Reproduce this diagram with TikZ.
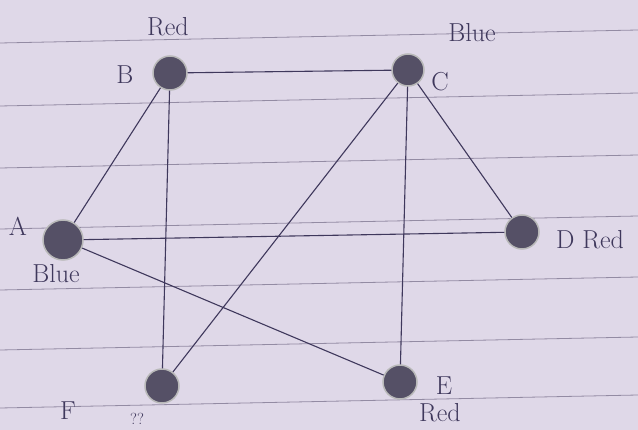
\documentclass[tikz,border=0pt]{standalone}
\definecolor{paper}{HTML}{DFD8E8}
\definecolor{rule}{HTML}{938BA3}
\definecolor{ink}{HTML}{3F385C}
\definecolor{dotfill}{HTML}{555066}
\tikzset{
  vertex/.style = {circle, fill = dotfill, draw = gray!55, line width = 1.5pt, minimum size = 34pt, inner sep = 0pt},
  lbl/.style = {text = ink, font = \fontsize{26}{26}\selectfont},
  edge/.style = {ink, line width = 1.1pt}
}
\begin{document}
\begin{tikzpicture} [x = 1pt, y = -1pt]
	\fill [paper] (0,0) rectangle (638,430);
	\useasboundingbox (0,0) rectangle (638,430);
	% ruled paper
	\foreach \yy in {43,106,168,229,290,350,408}
		\draw [rule, line width = 0.8pt] (0,\yy) -- (638,\yy-13);
	% vertices
	\node [vertex] (B) at (170,73) {};
	\node [vertex, minimum size = 32pt] (C) at (408,70) {};
	\node [vertex, minimum size = 40pt] (A) at (63,240) {};
	\node [vertex] (D) at (522,232) {};
	\node [vertex] (E) at (400,382) {};
	\node [vertex] (F) at (162,386) {};
	% edges
	\draw [edge] (B) -- (C);
	\draw [edge] (B) -- (A);
	\draw [edge] (B) -- (F);
	\draw [edge] (C) -- (F);
	\draw [edge] (C) -- (E);
	\draw [edge] (C) -- (D);
	\draw [edge] (A) -- (D);
	\draw [edge] (A) -- (E);
	% labels
	\node [lbl] (Bname) at (125,75) {B};
	\node [lbl] (Bcol) at (168,27) {Red};
	\node [lbl] (Cname) at (440,82) {C};
	\node [lbl] (Ccol) at (472,33) {Blue};
	\node [lbl] (Aname) at (18,226) {A};
	\node [lbl] (Acol) at (56,274) {Blue};
	\node [lbl] (Dname) at (590,240) {D Red};
	\node [lbl] (Ename) at (444,386) {E};
	\node [lbl] (Ecol) at (440,413) {Red};
	\node [lbl] (Fname) at (68,411) {F};
	\node [lbl, font = \fontsize{16}{16}\selectfont] (Fcol) at (137,419) {??};
\end{tikzpicture}
\end{document}
